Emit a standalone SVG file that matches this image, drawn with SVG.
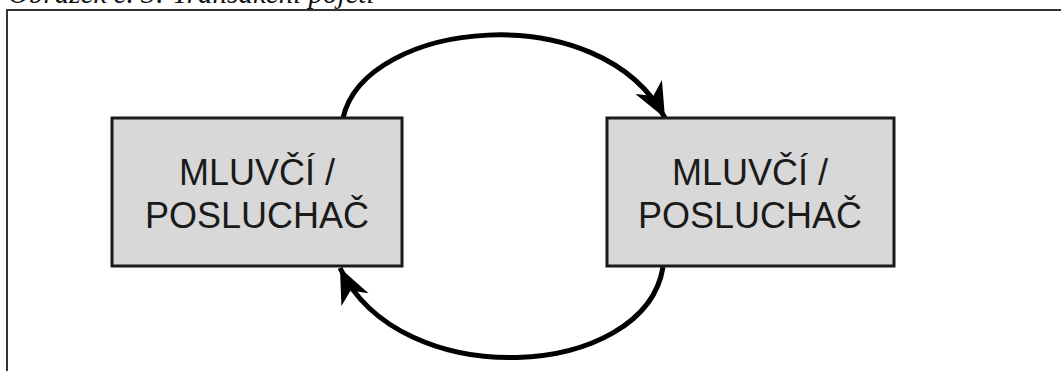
<svg xmlns="http://www.w3.org/2000/svg" width="1061" height="371" viewBox="0 0 1061 371">
<style>
.box{fill:#d8d8d8;stroke:#1a1a1a;stroke-width:3}
.lbl{font-family:"Liberation Sans",Arial,sans-serif;font-size:36px;fill:#1a1a1a;text-anchor:middle}
.cap{font-family:"Liberation Serif","Times New Roman",serif;font-style:italic;font-size:29px;fill:#111}
.conn{fill:none;stroke:#000;stroke-width:5}
</style>
<defs>
<marker id="ah" markerUnits="userSpaceOnUse" markerWidth="40" markerHeight="40" viewBox="-30 -15 32 30" refX="0" refY="0" orient="auto">
<path d="M0,0 L-28,-12 L-20,0 L-28,12 Z" fill="#000"/>
</marker>
</defs>
<rect width="1061" height="371" fill="#fff"/>
<text class="cap" x="8" y="3">Obrázek č. 3: Transakční pojetí</text>
<rect x="7" y="10" width="1100" height="400" fill="none" stroke="#333" stroke-width="2"/>
<g id="connectors">
<path class="conn" d="M343,118 C365,20 600,-5 665,118" marker-end="url(#ah)"/>
<path class="conn" d="M663,267 C645,380 400,395 340,268" marker-end="url(#ah)"/>
</g>
<g id="node-left">
<rect class="box" x="112" y="118" width="290" height="148"/>
<text class="lbl" x="257" y="185">MLUVČÍ /</text>
<text class="lbl" x="257" y="228">POSLUCHAČ</text>
</g>
<g id="node-right">
<rect class="box" x="607" y="118" width="287" height="148"/>
<text class="lbl" x="750" y="185">MLUVČÍ /</text>
<text class="lbl" x="750" y="228">POSLUCHAČ</text>
</g>
</svg>
